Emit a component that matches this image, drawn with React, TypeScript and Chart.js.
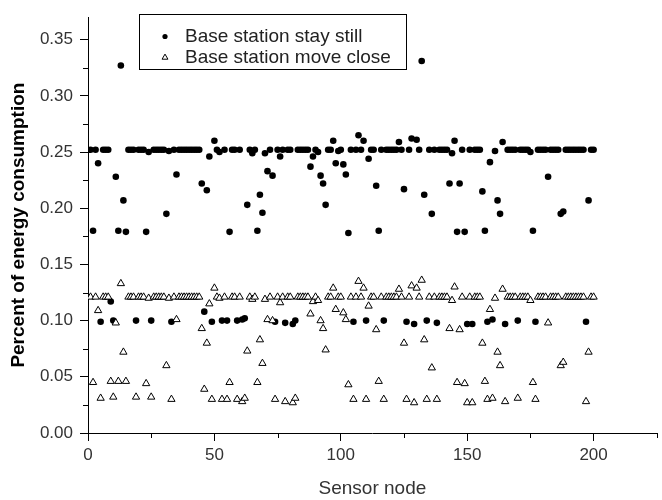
import React, { useEffect, useRef } from 'react';
import { Chart, registerables } from 'chart.js';

Chart.register(...registerables);

const nodeIds: number[] = Array.from({ length: 200 }, (_, i) => i + 1);

const stayStill: number[] = [
  0.252, 0.180, 0.252, 0.240, 0.099, 0.252, 0.252, 0.252, 0.117, 0.100,
  0.228, 0.180, 0.327, 0.207, 0.179, 0.252, 0.252, 0.252, 0.100, 0.252,
  0.252, 0.252, 0.179, 0.250, 0.100, 0.252, 0.252, 0.252, 0.252, 0.252,
  0.195, 0.251, 0.099, 0.252, 0.230, 0.252, 0.252, 0.252, 0.252, 0.252,
  0.252, 0.252, 0.252, 0.252, 0.222, 0.108, 0.216, 0.246, 0.099, 0.260,
  0.252, 0.250, 0.100, 0.252, 0.100, 0.179, 0.252, 0.252, 0.100, 0.252,
  0.101, 0.102, 0.203, 0.252, 0.249, 0.252, 0.180, 0.212, 0.196, 0.249,
  0.233, 0.252, 0.229, 0.099, 0.252, 0.246, 0.252, 0.098, 0.252, 0.252,
  0.097, 0.100, 0.252, 0.252, 0.252, 0.252, 0.252, 0.237, 0.246, 0.252,
  0.250, 0.229, 0.222, 0.203, 0.252, 0.252, 0.260, 0.240, 0.251, 0.252,
  0.239, 0.230, 0.178, 0.252, 0.099, 0.252, 0.265, 0.252, 0.260, 0.100,
  0.244, 0.252, 0.252, 0.220, 0.180, 0.252, 0.100, 0.252, 0.252, 0.252,
  0.252, 0.252, 0.259, 0.252, 0.217, 0.099, 0.252, 0.262, 0.097, 0.261,
  0.252, 0.331, 0.212, 0.100, 0.252, 0.195, 0.252, 0.098, 0.252, 0.252,
  0.252, 0.252, 0.222, 0.249, 0.260, 0.179, 0.222, 0.252, 0.179, 0.097,
  0.252, 0.097, 0.252, 0.252, 0.252, 0.215, 0.180, 0.099, 0.241, 0.101,
  0.251, 0.207, 0.195, 0.259, 0.097, 0.252, 0.252, 0.252, 0.252, 0.100,
  0.252, 0.252, 0.252, 0.252, 0.250, 0.180, 0.099, 0.252, 0.252, 0.252,
  0.252, 0.228, 0.252, 0.252, 0.252, 0.252, 0.195, 0.197, 0.252, 0.252,
  0.252, 0.252, 0.252, 0.252, 0.252, 0.252, 0.099, 0.207, 0.252, 0.252,
];

const moveClose: number[] = [
  0.121, 0.045, 0.121, 0.109, 0.031, 0.121, 0.121, 0.121, 0.046, 0.032,
  0.098, 0.046, 0.133, 0.072, 0.046, 0.121, 0.121, 0.121, 0.032, 0.121,
  0.121, 0.121, 0.044, 0.120, 0.032, 0.121, 0.121, 0.121, 0.121, 0.121,
  0.060, 0.120, 0.030, 0.121, 0.101, 0.121, 0.121, 0.121, 0.121, 0.121,
  0.121, 0.121, 0.121, 0.121, 0.093, 0.039, 0.080, 0.115, 0.030, 0.129,
  0.121, 0.120, 0.030, 0.121, 0.030, 0.045, 0.121, 0.121, 0.030, 0.121,
  0.028, 0.031, 0.073, 0.121, 0.119, 0.121, 0.045, 0.083, 0.062, 0.119,
  0.101, 0.121, 0.100, 0.030, 0.121, 0.116, 0.121, 0.028, 0.121, 0.121,
  0.027, 0.031, 0.121, 0.121, 0.121, 0.121, 0.121, 0.106, 0.117, 0.121,
  0.118, 0.100, 0.093, 0.074, 0.121, 0.121, 0.129, 0.110, 0.121, 0.121,
  0.107, 0.101, 0.043, 0.121, 0.030, 0.121, 0.135, 0.121, 0.129, 0.030,
  0.113, 0.121, 0.121, 0.092, 0.046, 0.121, 0.030, 0.121, 0.121, 0.121,
  0.121, 0.121, 0.128, 0.121, 0.080, 0.030, 0.121, 0.131, 0.027, 0.129,
  0.121, 0.136, 0.083, 0.030, 0.121, 0.058, 0.121, 0.030, 0.121, 0.121,
  0.121, 0.121, 0.093, 0.118, 0.130, 0.045, 0.092, 0.121, 0.044, 0.027,
  0.121, 0.027, 0.121, 0.121, 0.121, 0.080, 0.046, 0.030, 0.110, 0.031,
  0.120, 0.072, 0.060, 0.128, 0.028, 0.121, 0.121, 0.121, 0.121, 0.031,
  0.121, 0.121, 0.121, 0.121, 0.118, 0.045, 0.030, 0.121, 0.121, 0.121,
  0.121, 0.098, 0.121, 0.121, 0.121, 0.121, 0.060, 0.063, 0.121, 0.121,
  0.121, 0.121, 0.121, 0.121, 0.121, 0.121, 0.028, 0.072, 0.121, 0.121,
];

const seriesLabels: string[] = ['Base station stay still', 'Base station move close'];
const xTickValues: number[] = [0, 50, 100, 150, 200];
const xMinorValues: number[] = [25, 75, 125, 175, 225];
const yTickValues: number[] = [0, 0.05, 0.1, 0.15, 0.2, 0.25, 0.3, 0.35];
const yMinorValues: number[] = [0.025, 0.075, 0.125, 0.175, 0.225, 0.275, 0.325];
const xTitle = 'Sensor node';
const yTitle = 'Percent of energy consumption';

const FONT = "'Liberation Sans', Arial, sans-serif";

const extrasPlugin = {
  id: 'extras',
  afterDraw(chart: any) {
    const ctx = chart.ctx;
    const xs = chart.scales.x;
    const ys = chart.scales.y;
    const area = chart.chartArea;
    ctx.save();
    ctx.strokeStyle = '#000';
    ctx.lineWidth = 1;
    xMinorValues.forEach((v) => {
      const px = Math.round(xs.getPixelForValue(v)) + 0.5;
      ctx.beginPath();
      ctx.moveTo(px, area.bottom);
      ctx.lineTo(px, area.bottom + 5);
      ctx.stroke();
    });
    yMinorValues.forEach((v) => {
      const py = Math.round(ys.getPixelForValue(v)) + 0.5;
      ctx.beginPath();
      ctx.moveTo(area.left - 5, py);
      ctx.lineTo(area.left, py);
      ctx.stroke();
    });
    // legend
    const bx = 139.5, by = 14.5, bw = 267, bh = 55;
    ctx.strokeStyle = '#000';
    ctx.lineWidth = 1;
    ctx.strokeRect(bx, by, bw, bh);
    const rows = [36.5, 57.5];
    ctx.font = `19px ${FONT}`;
    ctx.textBaseline = 'middle';
    ctx.textAlign = 'left';
    ctx.beginPath();
    ctx.arc(165, rows[0], 2.6, 0, Math.PI * 2);
    ctx.fillStyle = '#000';
    ctx.fill();
    const r = 3.4;
    ctx.beginPath();
    ctx.moveTo(165, rows[1] - r);
    ctx.lineTo(165 + 0.866 * r, rows[1] + 0.5 * r);
    ctx.lineTo(165 - 0.866 * r, rows[1] + 0.5 * r);
    ctx.closePath();
    ctx.fillStyle = '#fff';
    ctx.fill();
    ctx.strokeStyle = '#000';
    ctx.stroke();
    ctx.fillStyle = '#222';
    ctx.fillText(seriesLabels[0], 185, rows[0]);
    ctx.fillText(seriesLabels[1], 185, rows[1]);
    ctx.restore();
  },
};

export default function App() {
  const ref = useRef<HTMLCanvasElement | null>(null);
  useEffect(() => {
    if (!ref.current) return;
    const chart = new Chart(ref.current, {
      type: 'scatter',
      data: {
        datasets: [
          {
            label: seriesLabels[0],
            data: nodeIds.map((n, i) => ({ x: n, y: stayStill[i] })),
            pointStyle: 'circle',
            pointRadius: 3.3,
            backgroundColor: '#000',
            borderColor: '#000',
            borderWidth: 0,
            order: 2,
          },
          {
            label: seriesLabels[1],
            data: nodeIds.map((n, i) => ({ x: n, y: moveClose[i] })),
            pointStyle: 'triangle',
            pointRadius: 4.2,
            backgroundColor: '#fff',
            borderColor: '#000',
            borderWidth: 1,
            order: 1,
          },
        ],
      },
      options: {
        responsive: false,
        animation: false,
        devicePixelRatio: 1,
        layout: { padding: { top: 11, right: 0, left: 0, bottom: 0 } },
        plugins: { legend: { display: false }, tooltip: { enabled: false } },
        scales: {
          x: {
            type: 'linear',
            min: 0,
            max: 225,
            afterBuildTicks: (s: any) => {
              s.ticks = xTickValues.map((v) => ({ value: v }));
            },
            afterFit: (s: any) => {
              s.height = 67;
            },
            grid: { display: true, drawOnChartArea: false, drawTicks: true, tickLength: 8, color: '#000', tickColor: '#000' },
            border: { display: true, color: '#000', width: 1 },
            ticks: {
              font: { family: FONT, size: 17 },
              color: '#333',
              padding: 4,
              maxRotation: 0,
              autoSkip: false,
              callback: (v: any) => String(v),
            },
            title: {
              display: true,
              text: xTitle,
              font: { family: FONT, size: 19 },
              color: '#333',
              padding: { top: 0, bottom: 0 },
            },
          },
          y: {
            type: 'linear',
            min: 0,
            max: 0.37,
            afterBuildTicks: (s: any) => {
              s.ticks = yTickValues.map((v) => ({ value: v }));
            },
            afterFit: (s: any) => {
              s.width = 88;
            },
            grid: { display: true, drawOnChartArea: false, drawTicks: true, tickLength: 8, color: '#000', tickColor: '#000' },
            border: { display: true, color: '#000', width: 1 },
            ticks: {
              font: { family: FONT, size: 17 },
              color: '#333',
              padding: 7,
              autoSkip: false,
              callback: (v: any) => Number(v).toFixed(2),
            },
            title: {
              display: true,
              text: yTitle,
              font: { family: FONT, size: 19, weight: 'bold' },
              color: '#000',
              padding: { top: 7, bottom: 0 },
            },
          },
        },
      },
      plugins: [extrasPlugin],
    });
    return () => chart.destroy();
  }, []);
  return (
    <div style={{ position: 'absolute', left: 0, top: 0, width: 662, height: 500, background: '#fff' }}>
      <canvas ref={ref} width={662} height={500} style={{ display: 'block', width: 662, height: 500 }} />
    </div>
  );
}
